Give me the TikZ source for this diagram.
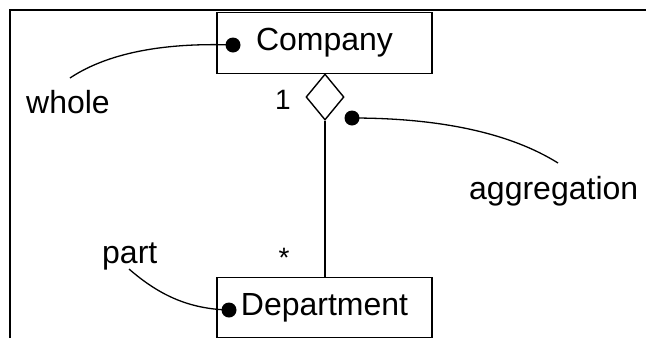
\documentclass[tikz,border=0pt]{standalone}
\usepackage{fontspec}
\setmainfont{Liberation Sans}
\usetikzlibrary{shapes.geometric}
\begin{document}
\begin{tikzpicture}[x=1pt,y=-1pt,
  cls/.style={draw, line width=1.4pt, minimum width=215pt, minimum height=60.5pt, inner sep=0pt, font=\fontsize{32}{38}\selectfont},
  dotc/.style={circle, fill, inner sep=0pt, minimum size=15pt},
  lbl/.style={font=\fontsize{32}{38}\selectfont, inner sep=0pt},
  mult/.style={font=\fontsize{28}{34}\selectfont, inner sep=0pt},
  lnk/.style={line width=1.3pt}]
\useasboundingbox (0,0) rectangle (646,338);
\clip (0,0) rectangle (646,338);
\draw[line width=2pt] (10,338) -- (10,10) -- (646,10);
\node[cls] (company) at (324.5,43) {Company};
\node[cls] (dept) at (324.5,307.5) {Department};
\node[diamond, draw, line width=1.4pt, minimum width=38pt, minimum height=46pt, inner sep=0pt, anchor=north] (agg) at (325,73.3) {};
\draw[lnk] (agg.south) -- (agg.south |- dept.north);
\node[mult] (one) at (283,100) {1};
\node[mult] (star) at (284,258) {*};
\node[lbl, anchor=base west] (whole) at (26,113) {whole};
\node[lbl, anchor=base west] (aggl) at (469,199) {aggregation};
\node[lbl, anchor=base west] (part) at (102,263) {part};
\coordinate (wholeend) at (70,78);
\coordinate (aggend) at (558,163);
\coordinate (partend) at (129,269);
\node[dotc] (cdot) at (233,45) {};
\node[dotc] (adot) at (352,118) {};
\node[dotc] (ddot) at (229,310) {};
\draw[lnk] (cdot.center) .. controls (150,42) and (100,58) .. (wholeend);
\draw[lnk] (adot.center) .. controls (440,118) and (510,133) .. (aggend);
\draw[lnk] (ddot.center) .. controls (190,309) and (160,296) .. (partend);
\end{tikzpicture}
\end{document}
